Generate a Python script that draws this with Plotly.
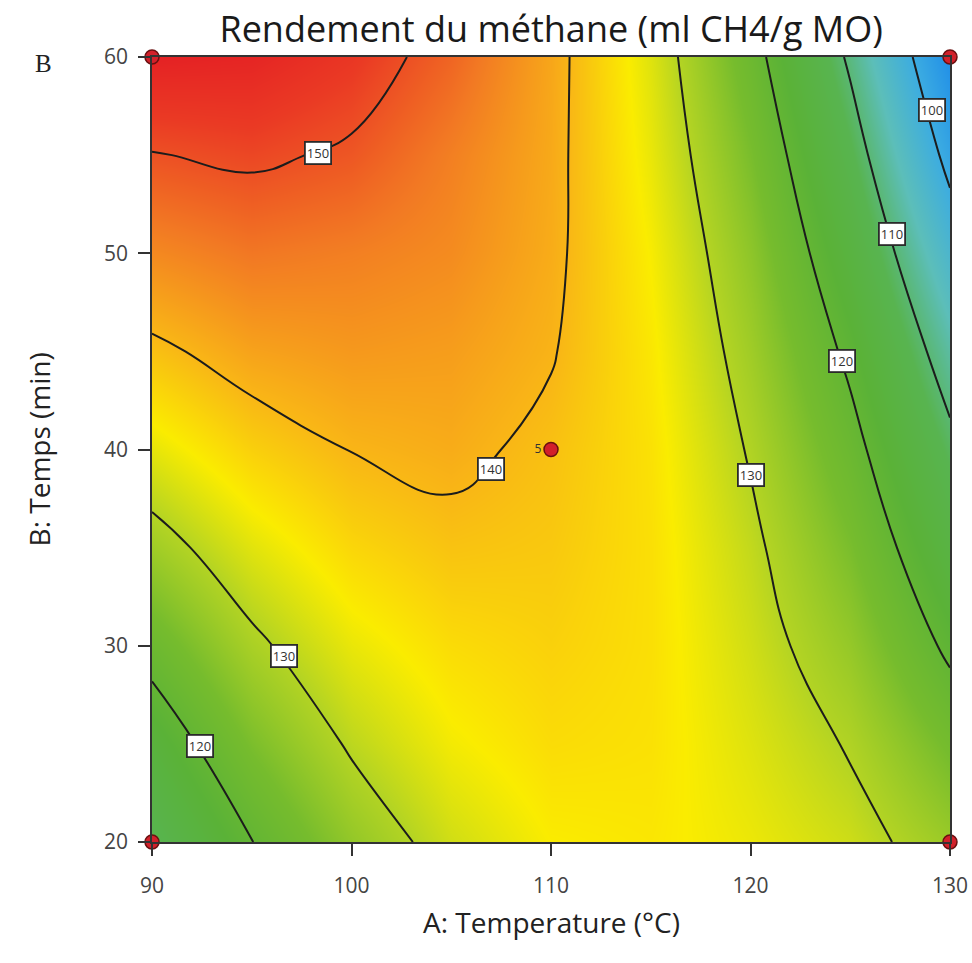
import plotly.graph_objects as go

# A: Temperature (°C) grid, B: Temps (min) grid
temperature = [90, 95, 100, 105, 110, 115, 120, 125, 130]
temps = [20, 25, 30, 35, 40, 45, 50, 55, 60]

# Methane yield (rows = temps, cols = temperature)
rendement = [
    [112.0, 119.9, 126.8, 132.0, 135.0, 135.5, 134.0, 131.8, 127.5],
    [116.5, 124.5, 130.6, 134.5, 136.5, 136.0, 133.0, 129.6, 123.5],
    [122.0, 129.0, 133.8, 136.5, 137.5, 136.2, 132.0, 127.0, 119.0],
    [128.0, 133.2, 137.0, 138.8, 138.3, 136.2, 131.0, 124.4, 115.0],
    [133.5, 137.6, 140.1, 141.0, 139.0, 136.0, 129.6, 121.7, 111.3],
    [139.0, 142.0, 143.0, 142.5, 140.3, 135.5, 128.0, 118.9, 107.3],
    [144.5, 146.3, 145.5, 144.3, 141.0, 134.8, 126.3, 115.7, 103.0],
    [149.8, 150.8, 149.3, 145.5, 141.3, 133.8, 124.3, 112.5, 98.5],
    [155.5, 155.0, 152.5, 148.0, 141.6, 133.0, 122.0, 109.2, 94.5],
]

# Design points (corners) and replicated centre point
design_a = [90, 90, 130, 130]
design_b = [20, 60, 20, 60]
center_a = [110]
center_b = [40]
center_reps = ["5"]

# Contour label placements
label_levels = ["150", "140", "130", "120", "130", "120", "110", "100"]
label_a = [98.3, 107.0, 96.6, 92.4, 120.0, 124.6, 127.1, 129.1]
label_b = [55.1, 39.0, 29.5, 24.9, 38.7, 44.5, 51.0, 57.3]

colorscale = [
    [0.000, "rgb(30,140,232)"],
    [0.097, "rgb(60,172,225)"],
    [0.194, "rgb(92,190,185)"],
    [0.290, "rgb(88,180,80)"],
    [0.387, "rgb(90,178,55)"],
    [0.484, "rgb(118,188,45)"],
    [0.581, "rgb(180,212,35)"],
    [0.661, "rgb(250,236,0)"],
    [0.742, "rgb(249,182,22)"],
    [0.839, "rgb(242,122,35)"],
    [0.935, "rgb(234,58,36)"],
    [1.000, "rgb(228,30,36)"],
]

fig = go.Figure()
fig.add_trace(go.Heatmap(
    x=temperature, y=temps, z=rendement,
    zsmooth="best", colorscale=colorscale, zmin=94, zmax=156,
    showscale=False, hoverinfo="skip",
))
fig.add_trace(go.Contour(
    x=temperature, y=temps, z=rendement,
    contours=dict(start=100, end=150, size=10, coloring="none", showlabels=False),
    line=dict(color="#1c1c1c", width=2, smoothing=1.3),
    showscale=False, hoverinfo="skip",
))
fig.add_trace(go.Scatter(
    x=design_a, y=design_b, mode="markers",
    marker=dict(size=14, color="#d2202a", line=dict(color="#6a1010", width=1.5)),
    cliponaxis=False, hoverinfo="skip", showlegend=False,
))
fig.add_trace(go.Scatter(
    x=center_a, y=center_b, mode="markers+text", text=center_reps,
    textposition="middle left",
    textfont=dict(size=12, color="#333333", family="Open Sans"),
    marker=dict(size=14, color="#d2202a", line=dict(color="#6a1010", width=1.5)),
    cliponaxis=False, hoverinfo="skip", showlegend=False,
))

for lv, la, lb in zip(label_levels, label_a, label_b):
    fig.add_annotation(
        x=la, y=lb, text=lv, showarrow=False,
        font=dict(size=13, color="#333333", family="Open Sans"),
        bgcolor="white", bordercolor="#2a2a2a", borderwidth=1.8, borderpad=1,
    )

fig.add_annotation(x=0.5, y=-0.129, xref="paper", yref="paper",
                   text="A: Temperature (°C)", showarrow=False,
                   font=dict(size=28, color="#222222", family="Open Sans"))
fig.add_annotation(x=-0.168, y=0.5, xref="paper", yref="paper",
                   text="B: Temps (min)", showarrow=False, textangle=-90,
                   font=dict(size=28, color="#222222", family="Open Sans"))
fig.add_annotation(x=-0.149, y=1.011, xref="paper", yref="paper",
                   text="B", showarrow=False,
                   font=dict(size=25, color="#222222", family="Liberation Serif"))

fig.update_layout(
    width=972, height=963,
    margin=dict(l=152, r=22, t=57, b=121, autoexpand=False),
    paper_bgcolor="white", plot_bgcolor="white",
    title=dict(text="Rendement du méthane (ml CH4/g MO)", x=0.567, xanchor="center",
               y=0.969, yanchor="middle",
               font=dict(size=36, color="#1a1a1a", family="Open Sans")),
    showlegend=False,
)
fig.update_xaxes(range=[90, 130], tickvals=[90, 100, 110, 120, 130],
                 ticks="outside", ticklen=12, tickwidth=2, tickcolor="#333333",
                 showline=True, linecolor="#333333", linewidth=1.5, mirror=True,
                 showgrid=False, zeroline=False, automargin=False,
                 tickfont=dict(size=21, color="#444444", family="Open Sans"),
                 ticklabelstandoff=12)
fig.update_yaxes(range=[20, 60], tickvals=[20, 30, 40, 50, 60],
                 ticks="outside", ticklen=12, tickwidth=2, tickcolor="#333333",
                 showline=True, linecolor="#333333", linewidth=1.5, mirror=True,
                 showgrid=False, zeroline=False, automargin=False,
                 tickfont=dict(size=21, color="#444444", family="Open Sans"),
                 ticklabelstandoff=6)

fig.write_html("out.html")
